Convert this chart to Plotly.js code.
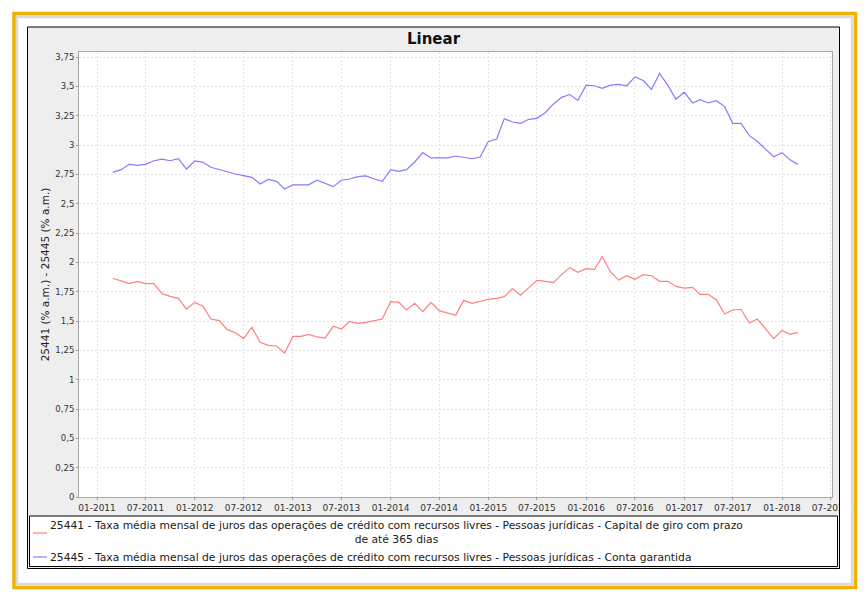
<!DOCTYPE html>
<html>
<head>
<meta charset="utf-8">
<script src="https://cdn.plot.ly/plotly-3.0.1.min.js"></script>
<style>html,body{margin:0;padding:0;background:#fff;}#chart{width:868px;height:597px;}</style>
</head>
<body>
<div id="chart"></div>
<script>
// ---------- data ----------
const chartTitle = 'Linear';
const yAxisTitle = '25441 (% a.m.) - 25445 (% a.m.)';
const seriesNames = [
  '25441 - Taxa média mensal de juros das operações de crédito com recursos livres - Pessoas jurídicas - Capital de giro com prazo de até 365 dias',
  '25445 - Taxa média mensal de juros das operações de crédito com recursos livres - Pessoas jurídicas - Conta garantida'
];
const seriesColors = ['#ff7f7f', '#7f7fff'];
const firstMonth = [2011, 3];   // March 2011, monthly observations
const series25441 = [
  1.864, 1.841, 1.818, 1.838, 1.818, 1.818, 1.733, 1.710, 1.693, 1.602,
  1.659, 1.625, 1.517, 1.503, 1.426, 1.400, 1.350, 1.446, 1.318, 1.293,
  1.287, 1.227, 1.369, 1.369, 1.386, 1.364, 1.355, 1.455, 1.432, 1.497,
  1.480, 1.489, 1.500, 1.517, 1.665, 1.659, 1.594, 1.651, 1.580, 1.659,
  1.588, 1.565, 1.548, 1.676, 1.651, 1.668, 1.685, 1.693, 1.707, 1.776,
  1.719, 1.784, 1.847, 1.838, 1.827, 1.895, 1.955, 1.915, 1.946, 1.940,
  2.048, 1.918, 1.849, 1.886, 1.855, 1.895, 1.886, 1.838, 1.838, 1.795,
  1.781, 1.787, 1.727, 1.727, 1.679, 1.560, 1.594, 1.600, 1.483, 1.517,
  1.429, 1.350, 1.420, 1.386, 1.403
];
const series25445 = [
  2.767, 2.790, 2.835, 2.827, 2.835, 2.866, 2.880, 2.866, 2.883, 2.795,
  2.864, 2.852, 2.810, 2.790, 2.767, 2.753, 2.739, 2.724, 2.668, 2.707,
  2.690, 2.625, 2.660, 2.660, 2.660, 2.700, 2.670, 2.645, 2.700, 2.710,
  2.730, 2.736, 2.710, 2.690, 2.790, 2.776, 2.790, 2.855, 2.935, 2.890,
  2.890, 2.890, 2.906, 2.895, 2.883, 2.898, 3.030, 3.050, 3.224, 3.196,
  3.185, 3.219, 3.227, 3.275, 3.350, 3.406, 3.430, 3.380, 3.510, 3.505,
  3.483, 3.510, 3.517, 3.505, 3.580, 3.550, 3.474, 3.610, 3.508, 3.390,
  3.450, 3.358, 3.386, 3.358, 3.378, 3.327, 3.185, 3.185, 3.080, 3.030,
  2.963, 2.900, 2.935, 2.872, 2.835
];
const seriesValues = [series25441, series25445];

// ---------- build ----------
function monthDates(n) {
  const out = [];
  let y = firstMonth[0], m = firstMonth[1];
  for (let i = 0; i < n; i++) {
    out.push(y + '-' + String(m).padStart(2, '0') + '-01');
    m++; if (m > 12) { m = 1; y++; }
  }
  return out;
}
const dates = monthDates(series25441.length);

// plot-area pixel frame (for paper-referenced decorations)
const W = 868, H = 597, L = 79, R = 832, T = 52, B = 497;
const px = x => (x - L) / (R - L);
const py = y => (B - y) / (B - T);

function wrap(text, maxChars) {
  const words = text.split(' ');
  const lines = []; let cur = '';
  words.forEach(w => {
    if ((cur + ' ' + w).trim().length > maxChars) { lines.push(cur); cur = w; }
    else cur = (cur + ' ' + w).trim();
  });
  if (cur) lines.push(cur);
  return lines.join('<br>');
}

const traces = seriesNames.map((name, i) => ({
  type: 'scatter', mode: 'lines', name: name,
  x: dates, y: seriesValues[i],
  line: {color: seriesColors[i], width: 1.2},
  showlegend: false, hoverinfo: 'x+y'
}));

const fontFam = 'DejaVu Sans, Arial, sans-serif';
const legendY = [533, 557];

const shapes = [
  // orange outer frame + inner shadow
  {type:'rect', xref:'paper', yref:'paper', layer:'below', x0:px(17), x1:px(852), y0:py(17), y1:py(584), line:{color:'#d9d9d9', width:2.5}, fillcolor:'rgba(0,0,0,0)'},
  {type:'rect', xref:'paper', yref:'paper', layer:'below', x0:px(14), x1:px(855.5), y0:py(13.5), y1:py(587.5), line:{color:'#f0b100', width:3.5}, fillcolor:'rgba(0,0,0,0)'},
  // chart panel
  {type:'rect', xref:'paper', yref:'paper', layer:'below', x0:px(27.5), x1:px(839.5), y0:py(27), y1:py(568.5), line:{color:'#000', width:1}, fillcolor:'#eeeeee'},
  // plot area background
  {type:'rect', xref:'paper', yref:'paper', layer:'below', x0:0, x1:1, y0:0, y1:1, line:{width:0}, fillcolor:'#ffffff'},
  // legend box
  {type:'rect', xref:'paper', yref:'paper', layer:'below', x0:px(29.5), x1:px(837.5), y0:py(516), y1:py(566.5), line:{color:'#000', width:1}, fillcolor:'#ffffff'},
  // clip of last tick label at panel edge
  {type:'rect', xref:'paper', yref:'paper', layer:'above', x0:px(840), x1:px(851), y0:py(499), y1:py(515), line:{width:0}, fillcolor:'#ffffff'},
  {type:'line', xref:'paper', yref:'paper', layer:'above', x0:px(839.5), x1:px(839.5), y0:py(27), y1:py(568.5), line:{color:'#000', width:1}}
];
seriesNames.forEach((n, i) => {
  shapes.push({type:'line', xref:'paper', yref:'paper', layer:'above', x0:px(33), x1:px(47), y0:py(legendY[i]), y1:py(legendY[i]), line:{color:seriesColors[i], width:1.2}});
});

const annotations = seriesNames.map((n, i) => ({
  xref:'paper', yref:'paper', x:px(47.5), y:py(i === 0 ? 532.8 : 557),
  xanchor:'left', yanchor:'middle', align:'center', showarrow:false,
  text: wrap(n, 128), font:{family:fontFam, size:10.75, color:'#1a1a1a'}
}));

const layout = {
  width: W, height: H,
  margin: {l: L, r: W - R, t: T, b: H - B, pad: 0},
  paper_bgcolor: '#ffffff', plot_bgcolor: '#ffffff',
  separators: ',.',
  showlegend: false,
  title: {text: chartTitle, xref:'container', yref:'container', x: 433.5 / W, xanchor:'center', y: 1 - 38.5 / H, yanchor:'middle',
          font: {family: fontFam, size: 15, color: '#111', weight: 'bold'}},
  xaxis: {
    type: 'date', range: ['2010-10-25 19:00', '2018-07-06 14:00'],
    tick0: '2011-01-01', dtick: 'M6', tickformat: '%m-%Y',
    ticks: 'outside', ticklen: 2, tickcolor: '#999',
    tickfont: {family: fontFam, size: 9, color: '#333'},
    showgrid: true, gridcolor: '#e2e2e2', griddash: '2px,2px', gridwidth: 1,
    showline: true, linecolor: '#a8a8a8', linewidth: 1, mirror: true,
    zeroline: false, fixedrange: true
  },
  yaxis: {
    range: [0, 3.7926], tick0: 0, dtick: 0.25, tickformat: '.2~f',
    ticks: 'outside', ticklen: 2, tickcolor: '#999',
    tickfont: {family: fontFam, size: 8.5, color: '#333'},
    showgrid: true, gridcolor: '#e2e2e2', griddash: '2px,2px', gridwidth: 1,
    showline: true, linecolor: '#a8a8a8', linewidth: 1, mirror: true,
    zeroline: false, fixedrange: true,
    title: {text: yAxisTitle, font: {family: fontFam, size: 10.5, color: '#222'}, standoff: 3}
  },
  shapes: shapes,
  annotations: annotations
};

Plotly.newPlot('chart', traces, layout, {displayModeBar: false, staticPlot: true});
</script>
</body>
</html>
